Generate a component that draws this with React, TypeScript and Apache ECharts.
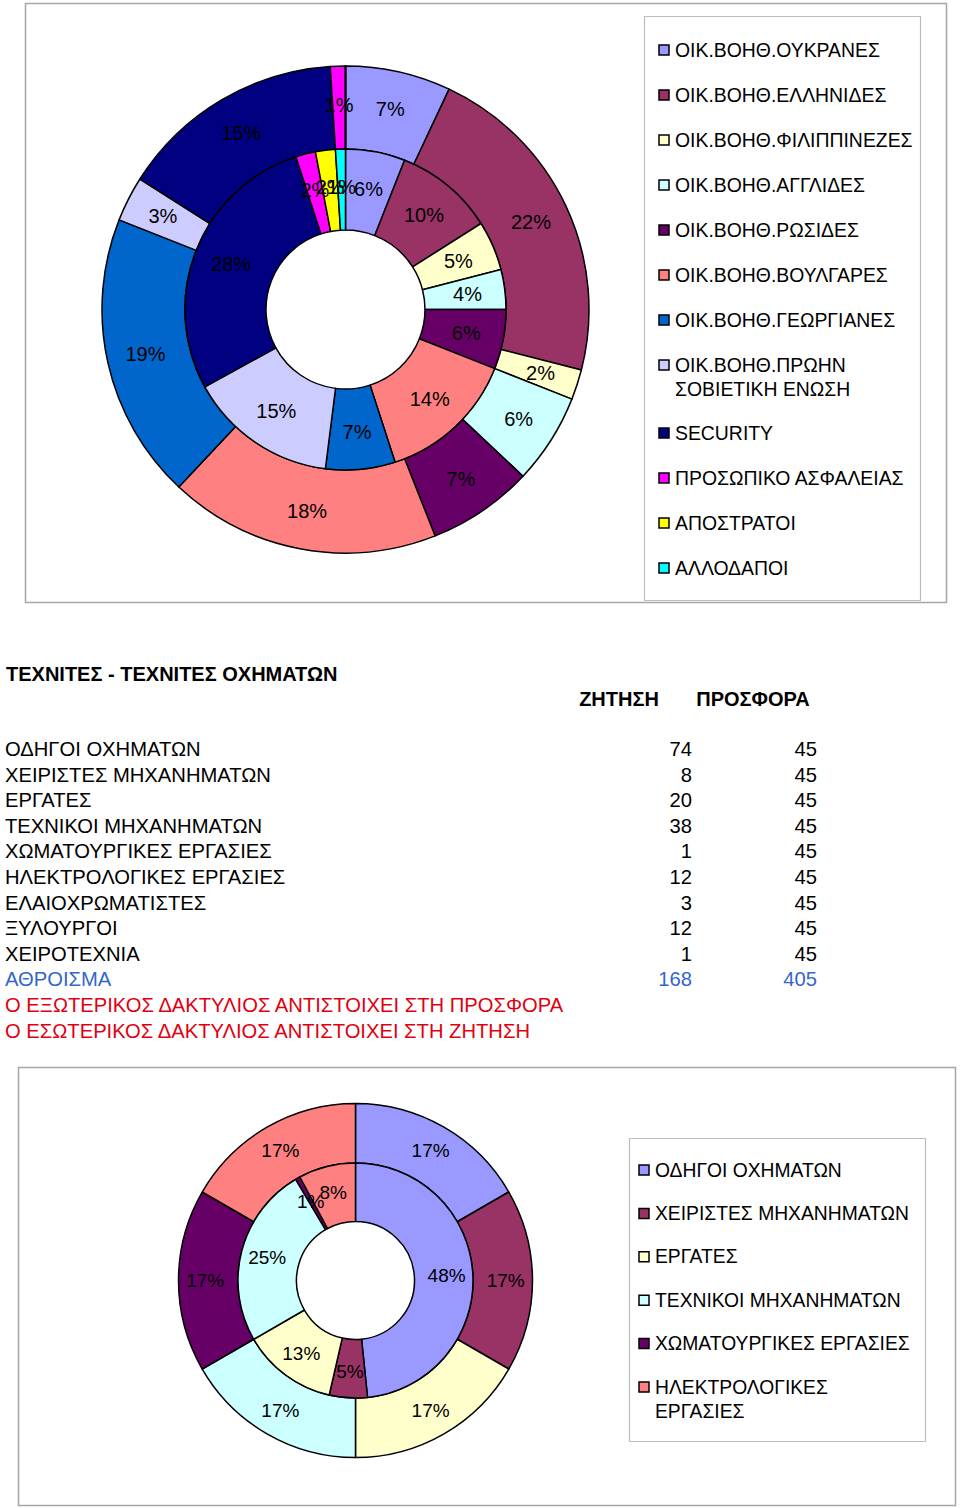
import React, { useEffect, useRef } from "react";
import * as echarts from "echarts";

const FONT = '"Liberation Sans", Arial, Helvetica, sans-serif';

// ---------- Top chart (domestic helpers etc.) ----------
const TOP_CATEGORIES = [
  "ΟΙΚ.ΒΟΗΘ.ΟΥΚΡΑΝΕΣ",
  "ΟΙΚ.ΒΟΗΘ.ΕΛΛΗΝΙΔΕΣ",
  "ΟΙΚ.ΒΟΗΘ.ΦΙΛΙΠΠΙΝΕΖΕΣ",
  "ΟΙΚ.ΒΟΗΘ.ΑΓΓΛΙΔΕΣ",
  "ΟΙΚ.ΒΟΗΘ.ΡΩΣΙΔΕΣ",
  "ΟΙΚ.ΒΟΗΘ.ΒΟΥΛΓΑΡΕΣ",
  "ΟΙΚ.ΒΟΗΘ.ΓΕΩΡΓΙΑΝΕΣ",
  "ΟΙΚ.ΒΟΗΘ.ΠΡΩΗΝ ΣΟΒΙΕΤΙΚΗ ΕΝΩΣΗ",
  "SECURITY",
  "ΠΡΟΣΩΠΙΚΟ ΑΣΦΑΛΕΙΑΣ",
  "ΑΠΟΣΤΡΑΤΟΙ",
  "ΑΛΛΟΔΑΠΟΙ",
];
const TOP_LEGEND_LABELS = [
  "ΟΙΚ.ΒΟΗΘ.ΟΥΚΡΑΝΕΣ",
  "ΟΙΚ.ΒΟΗΘ.ΕΛΛΗΝΙΔΕΣ",
  "ΟΙΚ.ΒΟΗΘ.ΦΙΛΙΠΠΙΝΕΖΕΣ",
  "ΟΙΚ.ΒΟΗΘ.ΑΓΓΛΙΔΕΣ",
  "ΟΙΚ.ΒΟΗΘ.ΡΩΣΙΔΕΣ",
  "ΟΙΚ.ΒΟΗΘ.ΒΟΥΛΓΑΡΕΣ",
  "ΟΙΚ.ΒΟΗΘ.ΓΕΩΡΓΙΑΝΕΣ",
  "ΟΙΚ.ΒΟΗΘ.ΠΡΩΗΝ\nΣΟΒΙΕΤΙΚΗ ΕΝΩΣΗ",
  "SECURITY",
  "ΠΡΟΣΩΠΙΚΟ ΑΣΦΑΛΕΙΑΣ",
  "ΑΠΟΣΤΡΑΤΟΙ",
  "ΑΛΛΟΔΑΠΟΙ",
];
const PALETTE = [
  "#9999FF",
  "#993366",
  "#FFFFCC",
  "#CCFFFF",
  "#660066",
  "#FF8080",
  "#0066CC",
  "#CCCCFF",
  "#000080",
  "#FF00FF",
  "#FFFF00",
  "#00FFFF",
];
// outer ring: supply, inner ring: demand (percent shares)
const TOP_OUTER = [7, 22, 2, 6, 7, 18, 19, 3, 15, 1, 0, 0];
const TOP_INNER = [6, 10, 5, 4, 6, 14, 7, 15, 28, 2, 2, 1];

// ---------- Table / bottom chart ----------
const TABLE_TITLE = "ΤΕΧΝΙΤΕΣ - ΤΕΧΝΙΤΕΣ ΟΧΗΜΑΤΩΝ";
const COL_DEMAND = "ΖΗΤΗΣΗ";
const COL_SUPPLY = "ΠΡΟΣΦΟΡΑ";
const TRADE_CATEGORIES = [
  "ΟΔΗΓΟΙ ΟΧΗΜΑΤΩΝ",
  "ΧΕΙΡΙΣΤΕΣ ΜΗΧΑΝΗΜΑΤΩΝ",
  "ΕΡΓΑΤΕΣ",
  "ΤΕΧΝΙΚΟΙ ΜΗΧΑΝΗΜΑΤΩΝ",
  "ΧΩΜΑΤΟΥΡΓΙΚΕΣ ΕΡΓΑΣΙΕΣ",
  "ΗΛΕΚΤΡΟΛΟΓΙΚΕΣ ΕΡΓΑΣΙΕΣ",
  "ΕΛΑΙΟΧΡΩΜΑΤΙΣΤΕΣ",
  "ΞΥΛΟΥΡΓΟΙ",
  "ΧΕΙΡΟΤΕΧΝΙΑ",
];
const TRADE_DEMAND = [74, 8, 20, 38, 1, 12, 3, 12, 1];
const TRADE_SUPPLY = [45, 45, 45, 45, 45, 45, 45, 45, 45];
const TOTAL_LABEL = "ΑΘΡΟΙΣΜΑ";
const DEMAND_TOTAL = 168;
const SUPPLY_TOTAL = 405;
const NOTES = [
  "Ο ΕΞΩΤΕΡΙΚΟΣ ΔΑΚΤΥΛΙΟΣ ΑΝΤΙΣΤΟΙΧΕΙ ΣΤΗ ΠΡΟΣΦΟΡΑ",
  "Ο ΕΣΩΤΕΡΙΚΟΣ ΔΑΚΤΥΛΙΟΣ ΑΝΤΙΣΤΟΙΧΕΙ ΣΤΗ ΖΗΤΗΣΗ",
];
const PIE_TRADE_COUNT = 6;
const BOTTOM_LEGEND_LABELS = [
  "ΟΔΗΓΟΙ ΟΧΗΜΑΤΩΝ",
  "ΧΕΙΡΙΣΤΕΣ ΜΗΧΑΝΗΜΑΤΩΝ",
  "ΕΡΓΑΤΕΣ",
  "ΤΕΧΝΙΚΟΙ ΜΗΧΑΝΗΜΑΤΩΝ",
  "ΧΩΜΑΤΟΥΡΓΙΚΕΣ ΕΡΓΑΣΙΕΣ",
  "ΗΛΕΚΤΡΟΛΟΓΙΚΕΣ\nΕΡΓΑΣΙΕΣ",
];

function pctLabel(p: any) {
  if (!p.value) return "";
  return Math.round(p.percent) + "%";
}

function ring(
  names: string[],
  values: number[],
  center: [number, number],
  radius: [number, number],
  fontSize: number
) {
  return {
    type: "pie",
    center,
    radius,
    startAngle: 90,
    clockwise: true,
    silent: true,
    avoidLabelOverlap: false,
    minShowLabelAngle: 0,
    percentPrecision: 4,
    labelLayout: { hideOverlap: false },
    data: values.map((v, i) => ({
      name: names[i],
      value: v,
      itemStyle: { color: PALETTE[i] },
    })),
    itemStyle: { borderColor: "#000", borderWidth: 1.5 },
    label: {
      show: true,
      position: "inside",
      formatter: pctLabel,
      color: "#000",
      fontSize,
      fontFamily: FONT,
    },
    labelLine: { show: false },
    emphasis: { disabled: true },
  };
}

function legendGraphics(
  labels: string[],
  x: number,
  y0: number,
  step: number,
  fontSize: number
) {
  const els: any[] = [];
  let y = y0;
  labels.forEach((lab, i) => {
    const lines = lab.split("\n").length;
    els.push({
      type: "rect",
      shape: { x: x - 5, y: y - 5, width: 10, height: 10 },
      style: { fill: PALETTE[i], stroke: "#000", lineWidth: 1.5 },
      silent: true,
    });
    els.push({
      type: "text",
      x: x + 11,
      y: y - 12,
      style: {
        text: lab,
        fill: "#000",
        fontSize,
        fontFamily: FONT,
        lineHeight: 24,
        align: "left",
        verticalAlign: "top",
      },
      silent: true,
    });
    y += step + (lines - 1) * 23;
  });
  return els;
}

function txt(text: string, x: number, y: number, opts: any = {}) {
  return {
    type: "text",
    x,
    y,
    silent: true,
    style: {
      text,
      fill: opts.fill || "#000",
      fontSize: opts.fontSize || 20.2,
      fontWeight: opts.fontWeight || "normal",
      fontFamily: FONT,
      align: opts.align || "left",
      verticalAlign: "middle",
    },
  };
}

export default function App() {
  const ref = useRef<HTMLDivElement>(null);

  useEffect(() => {
    if (!ref.current) return;
    const chart = echarts.init(ref.current, undefined, { renderer: "svg" });

    const graphics: any[] = [];
    // frames
    graphics.push({
      type: "rect",
      shape: { x: 25.5, y: 3.5, width: 921, height: 599 },
      style: { fill: "none", stroke: "#a6a6a6", lineWidth: 1.5 },
      silent: true,
      z: -10,
    });
    graphics.push({
      type: "rect",
      shape: { x: 644.5, y: 16.5, width: 276, height: 584 },
      style: { fill: "none", stroke: "#bdbdbd", lineWidth: 1.2 },
      silent: true,
    });
    graphics.push({
      type: "rect",
      shape: { x: 18.5, y: 1067.5, width: 937, height: 438 },
      style: { fill: "none", stroke: "#a6a6a6", lineWidth: 1.5 },
      silent: true,
      z: -10,
    });
    graphics.push({
      type: "rect",
      shape: { x: 629.5, y: 1138.5, width: 296, height: 303 },
      style: { fill: "none", stroke: "#bdbdbd", lineWidth: 1.2 },
      silent: true,
    });
    graphics.push(...legendGraphics(TOP_LEGEND_LABELS, 664, 50, 45, 19.4));
    graphics.push(...legendGraphics(BOTTOM_LEGEND_LABELS, 644, 1170, 43.4, 19.3));

    // table
    graphics.push(txt(TABLE_TITLE, 6, 674, { fontWeight: "bold", fontSize: 20 }));
    graphics.push(txt(COL_DEMAND, 619, 699, { fontWeight: "bold", fontSize: 20, align: "center" }));
    graphics.push(txt(COL_SUPPLY, 753, 699, { fontWeight: "bold", fontSize: 20, align: "center" }));
    const rowY0 = 749;
    const rowStep = 25.6;
    TRADE_CATEGORIES.forEach((c, i) => {
      const y = rowY0 + i * rowStep;
      graphics.push(txt(c, 5, y));
      graphics.push(txt(String(TRADE_DEMAND[i]), 692, y, { align: "right" }));
      graphics.push(txt(String(TRADE_SUPPLY[i]), 817, y, { align: "right" }));
    });
    const sumY = rowY0 + TRADE_CATEGORIES.length * rowStep;
    const blue = "#3366CC";
    graphics.push(txt(TOTAL_LABEL, 5, sumY, { fill: blue }));
    graphics.push(txt(String(DEMAND_TOTAL), 692, sumY, { fill: blue, align: "right" }));
    graphics.push(txt(String(SUPPLY_TOTAL), 817, sumY, { fill: blue, align: "right" }));
    NOTES.forEach((n, i) => {
      graphics.push(txt(n, 5, sumY + (i + 1) * rowStep, { fill: "#E00010" }));
    });

    const tradeNames = TRADE_CATEGORIES.slice(0, PIE_TRADE_COUNT);
    const option: any = {
      animation: false,
      backgroundColor: "#fff",
      series: [
        ring(TOP_CATEGORIES, TOP_OUTER, [345.5, 309.5], [160.5, 243.5], 20),
        ring(TOP_CATEGORIES, TOP_INNER, [345.5, 309.5], [79.5, 160.5], 20),
        ring(tradeNames, TRADE_SUPPLY.slice(0, PIE_TRADE_COUNT), [355.5, 1280.5], [117.5, 177], 19),
        ring(tradeNames, TRADE_DEMAND.slice(0, PIE_TRADE_COUNT), [355.5, 1280.5], [59, 117.5], 19),
      ],
      graphic: { elements: graphics },
    };
    chart.setOption(option);
    return () => chart.dispose();
  }, []);

  return (
    <div
      ref={ref}
      style={{ position: "absolute", left: 0, top: 0, width: 960, height: 1508 }}
    />
  );
}
